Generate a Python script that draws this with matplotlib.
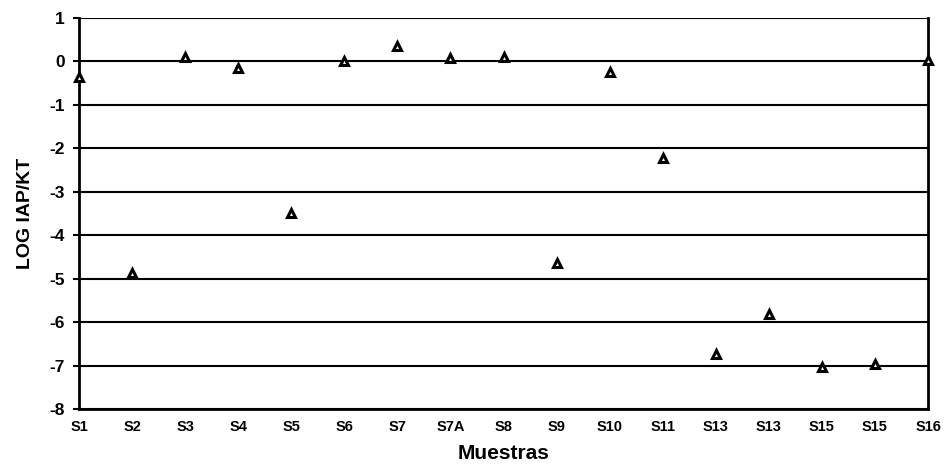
import matplotlib
matplotlib.use("Agg")
import matplotlib.pyplot as plt

categories = ["S1", "S2", "S3", "S4", "S5", "S6", "S7", "S7A", "S8", "S9",
              "S10", "S11", "S13", "S13", "S15", "S15", "S16"]
values = [-0.35, -4.86, 0.10, -0.15, -3.48, 0.0, 0.35, 0.08, 0.10, -4.65,
          -0.25, -2.23, -6.74, -5.81, -7.03, -6.96, 0.03]
yticks = [1, 0, -1, -2, -3, -4, -5, -6, -7, -8]

plt.rcParams['font.family'] = ['Liberation Sans', 'DejaVu Sans']

fig = plt.figure(figsize=(9.47, 4.72), dpi=100)
ax = fig.add_axes([0.0834, 0.1335, 0.8966, 0.8285])

x = list(range(len(categories)))
ax.plot(x, values, linestyle='none', marker='^', markersize=6,
        markerfacecolor='white', markeredgecolor='black', markeredgewidth=2.2,
        clip_on=False, zorder=5)

ax.set_xlim(0, len(categories) - 1)
ax.set_ylim(-8, 1)
ax.set_yticks(yticks)
ax.set_yticklabels([str(v) for v in yticks], fontsize=12.5, fontweight='bold')
ax.set_xticks(x)
ax.set_xticklabels(categories, fontsize=10.5, fontweight='bold')
ax.tick_params(axis='x', length=0, pad=8)
ax.tick_params(axis='y', length=4, width=1.5, direction='out', pad=6)

for v in yticks:
    ax.axhline(v, color='black', linewidth=1.5, zorder=1)

for s in ['left', 'right', 'bottom']:
    ax.spines[s].set_linewidth(2)
    ax.spines[s].set_color('black')
ax.spines['top'].set_visible(False)

ax.set_xlabel("Muestras", fontsize=15, fontweight='bold', labelpad=7)
ax.set_ylabel("LOG IAP/KT", fontsize=14, fontweight='bold', labelpad=11)

fig.savefig("out.png", dpi=100)
